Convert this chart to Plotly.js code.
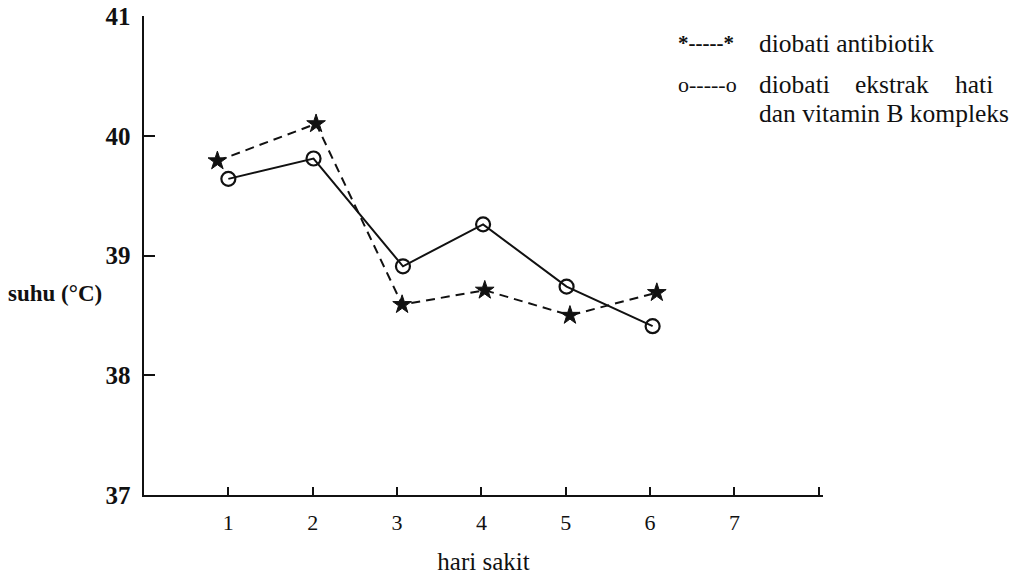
<!DOCTYPE html>
<html>
<head>
<meta charset="utf-8">
<script src="https://cdn.plot.ly/plotly-3.0.1.min.js"></script>
<style>html,body{margin:0;padding:0;background:#fff;}#chart{width:1019px;height:576px;}</style>
</head>
<body>
<div id="chart"></div>
<script>
// Data
const antibiotikDays = [0.87, 2.04, 3.06, 4.04, 5.05, 6.08];
const antibiotikTemp = [39.79, 40.1, 38.59, 38.71, 38.5, 38.69];
const ekstrakDays = [1, 2.01, 3.07, 4.02, 5.01, 6.03];
const ekstrakTemp = [39.64, 39.81, 38.91, 39.26, 38.74, 38.41];
const xTickVals = [1, 2, 3, 4, 5, 6, 7, 8];
const xTickText = ['1', '2', '3', '4', '5', '6', '7', ''];
const yTickVals = [37, 38, 39, 40, 41];
const legendKeys = ['*-----*', 'o-----o'];
const legendLine1 = 'diobati antibiotik';
const legendLine2Words = ['diobati', 'ekstrak', 'hati'];
const legendLine3 = 'dan vitamin B kompleks';
const xTitle = 'hari sakit';
const yTitle = 'suhu (\u00b0C)';

const serif = 'Liberation Serif, Times New Roman, serif';

const traces = [
  {
    x: antibiotikDays, y: antibiotikTemp, type: 'scatter', mode: 'lines+markers',
    name: 'diobati antibiotik',
    line: {color: '#111', width: 2, dash: '9px,6px'},
    marker: {symbol: 'star', size: 14, color: '#111', line: {color: '#111', width: 1}}
  },
  {
    x: ekstrakDays, y: ekstrakTemp, type: 'scatter', mode: 'lines+markers',
    name: 'diobati ekstrak hati dan vitamin B kompleks',
    line: {color: '#111', width: 2},
    marker: {symbol: 'circle-open', size: 14, color: '#111', line: {color: '#111', width: 2.2}}
  }
];

const L = 144, W = 679, T = 16, H = 479;
function px(X) { return (X - L) / W; }
function py(Y) { return (T + H - Y) / H; }

function txt(X, Y, text, size) {
  return {xref: 'paper', yref: 'paper', x: px(X), y: py(Y), xanchor: 'left', yanchor: 'middle',
          text: text, showarrow: false, font: {family: serif, size: size, color: '#111'}};
}

const line2X = [757, 853, 953];
const annotations = [
  txt(676, 43, '<b>' + legendKeys[0] + '</b>', 21),
  txt(757, 43, legendLine1, 25.5),
  txt(676, 85, legendKeys[1], 22),
  txt(line2X[0], 85, legendLine2Words[0], 25.5),
  txt(line2X[1], 85, legendLine2Words[1], 25.5),
  txt(line2X[2], 85, legendLine2Words[2], 25.5),
  txt(757, 113, legendLine3, 25.5),
  txt(6, 293, '<b>' + yTitle + '</b>', 23)
];

const layout = {
  width: 1019, height: 576,
  margin: {l: L, r: 1019 - L - W, t: T, b: 576 - T - H, pad: 0},
  paper_bgcolor: '#fff', plot_bgcolor: '#fff',
  showlegend: false,
  xaxis: {
    range: [0, 8.05], showgrid: false, zeroline: false,
    showline: true, linecolor: '#111', linewidth: 2,
    ticks: 'inside', ticklen: 8, tickwidth: 2, tickcolor: '#111',
    tickvals: xTickVals, ticktext: xTickText,
    ticklabelstandoff: 7,
    tickfont: {family: serif, size: 22, color: '#111'},
    title: {text: xTitle, font: {family: serif, size: 25, color: '#111'}, standoff: 18}
  },
  yaxis: {
    range: [37, 41], showgrid: false, zeroline: false,
    showline: true, linecolor: '#111', linewidth: 2.5,
    ticks: 'inside', ticklen: 11, tickwidth: 2, tickcolor: '#111',
    tickvals: yTickVals,
    ticklabelstandoff: 6,
    tickfont: {family: serif, size: 25, color: '#111', weight: 'bold'}
  },
  annotations: annotations
};

Plotly.newPlot('chart', traces, layout, {staticPlot: true, displayModeBar: false});
</script>
</body>
</html>
